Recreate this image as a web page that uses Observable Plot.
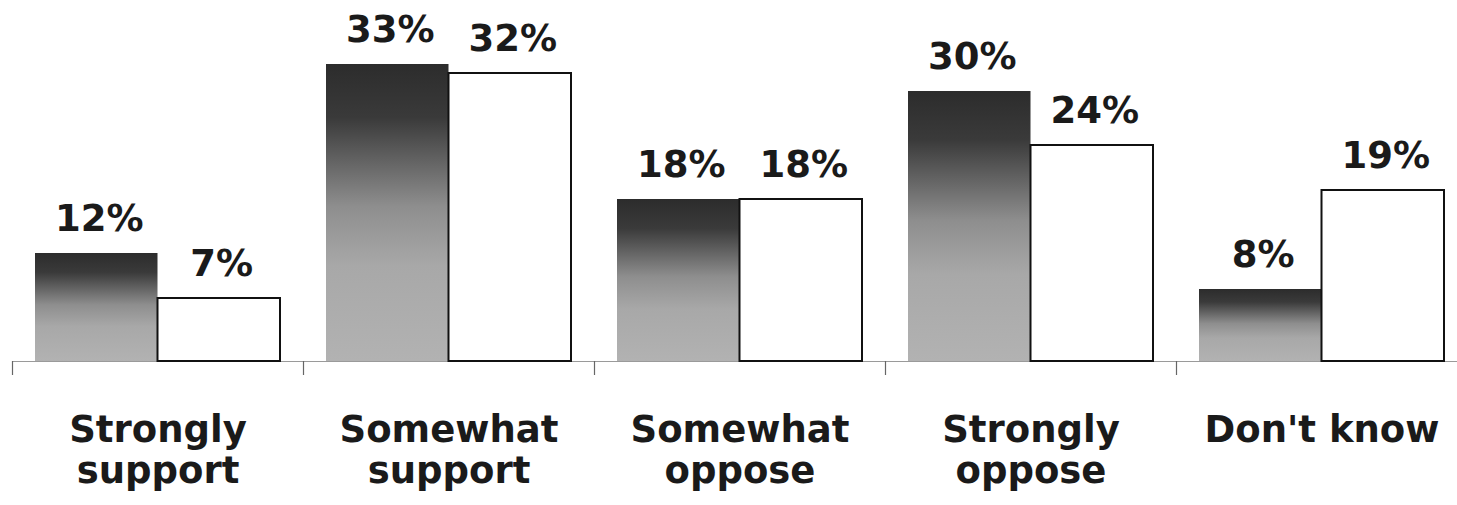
<!DOCTYPE html>
<html>
<head>
<meta charset="utf-8">
<script src="https://cdn.jsdelivr.net/npm/d3@7"></script>
<script src="https://cdn.jsdelivr.net/npm/@observablehq/plot@0.6"></script>
<style>
  html, body { margin: 0; padding: 0; background: #fff; }
  #chart { width: 1457px; height: 505px; overflow: hidden; }
</style>
</head>
<body>
<div id="chart"></div>
<script>
const categories = ["Strongly\nsupport", "Somewhat\nsupport", "Somewhat\noppose", "Strongly\noppose", "Don't know"];
const seriesA = [12, 33, 18, 30, 8];
const seriesB = [7, 32, 18, 24, 19];
const tickPositions = [0, 1, 2, 3, 4];

const rowsA = categories.map((c, i) => ({cat: c, i, value: seriesA[i]}));
const rowsB = categories.map((c, i) => ({cat: c, i, value: seriesB[i]}));

const font = "Verdana, 'DejaVu Sans', sans-serif";

const svg = Plot.plot({
  width: 1457,
  height: 505,
  marginLeft: 12,
  marginRight: 0,
  marginTop: 1,
  marginBottom: 144,
  style: {background: "#fff", fontFamily: font},
  x: {domain: [0, 1445 / 291], axis: null},
  y: {domain: [0, 40], axis: null},
  marks: [
    Plot.ruleY([0], {stroke: "#9a9a9a", strokeWidth: 1.2}),
    Plot.axisX({ticks: tickPositions, tickSize: 14, tickFormat: () => "", stroke: "#666", strokeWidth: 1.2}),
    Plot.rectY(rowsA, {x1: d => d.i, x2: d => d.i + 0.5, y1: 0, y2: "value", insetLeft: 23, fill: "url(#barGrad)"}),
    Plot.rectY(rowsB, {x1: d => d.i + 0.5, x2: d => d.i + 1, y1: 0, y2: "value", insetRight: 23, fill: "#fff", stroke: "#111", strokeWidth: 2}),
    Plot.text(rowsA, {x: d => d.i + 0.25, y: "value", dx: 14, dy: -23, text: d => d.value + "%", lineAnchor: "bottom", fontSize: 37, fontWeight: "bold", fill: "#1a1a1a", style: "letter-spacing:5px"}),
    Plot.text(rowsB, {x: d => d.i + 0.75, y: "value", dx: -9, dy: -23, text: d => d.value + "%", lineAnchor: "bottom", fontSize: 37, fontWeight: "bold", fill: "#1a1a1a", style: "letter-spacing:5px"}),
    Plot.text(rowsA, {x: d => d.i + 0.5, y: 0, dy: 52, text: "cat", lineAnchor: "top", lineHeight: 1.1, fontSize: 37, fontWeight: "bold", fill: "#1a1a1a"})
  ]
});

d3.select(svg).insert("defs", ":first-child").html(`
  <linearGradient id="barGrad" x1="0" y1="0" x2="0" y2="1">
    <stop offset="0" stop-color="#2c2c2c"/>
    <stop offset="0.18" stop-color="#3a3a3a"/>
    <stop offset="0.48" stop-color="#8e8e8e"/>
    <stop offset="0.68" stop-color="#a8a8a8"/>
    <stop offset="1" stop-color="#b2b2b2"/>
  </linearGradient>`);

document.getElementById("chart").appendChild(svg);
</script>
</body>
</html>
